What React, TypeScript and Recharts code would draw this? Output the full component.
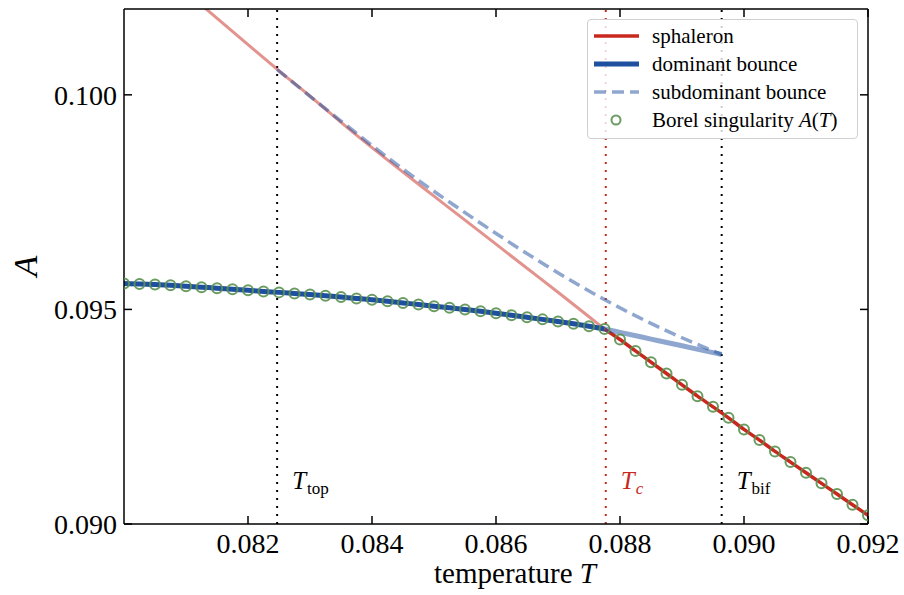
import React from 'react'
import { ComposedChart, Line, XAxis, YAxis, ReferenceLine } from 'recharts'

const FONT = '"Liberation Serif", "Times New Roman", serif'
const RED = '#c8281e'
const BLUE = '#1f50a0'
const GREEN = '#5a9150'

const T_TOP = 0.08247
const T_C = 0.08777
const T_BIF = 0.08964

const xTicks = [0.082, 0.084, 0.086, 0.088, 0.09, 0.092]
const yTicks = [0.09, 0.095, 0.1]

// Borel singularity samples (also the dominant bounce below Tc, sphaleron above)
const borelT = [
  0.08, 0.08025, 0.0805, 0.08075, 0.081, 0.08125, 0.0815, 0.08175, 0.082, 0.08225,
  0.0825, 0.08275, 0.083, 0.08325, 0.0835, 0.08375, 0.084, 0.08425, 0.0845, 0.08475,
  0.085, 0.08525, 0.0855, 0.08575, 0.086, 0.08625, 0.0865, 0.08675, 0.087, 0.08725,
  0.0875, 0.08775, 0.088, 0.08825, 0.0885, 0.08875, 0.089, 0.08925, 0.0895, 0.08975,
  0.09, 0.09025, 0.0905, 0.09075, 0.091, 0.09125, 0.0915, 0.09175, 0.092,
]
const borelA = [
  0.095602, 0.095592, 0.095578, 0.095562, 0.095541, 0.095518, 0.095495, 0.095471, 0.095446, 0.09542,
  0.095397, 0.095371, 0.095346, 0.095318, 0.095287, 0.095257, 0.095225, 0.09519, 0.095152, 0.095115,
  0.095076, 0.095038, 0.094999, 0.094957, 0.094913, 0.094866, 0.094817, 0.094768, 0.09472, 0.094666,
  0.094608, 0.094545, 0.094298, 0.094033, 0.09377, 0.093507, 0.093242, 0.092979, 0.09273, 0.092474,
  0.092204, 0.091955, 0.091692, 0.091443, 0.091194, 0.090947, 0.090698, 0.090449, 0.090202,
]

// sphaleron branch below Tc (faded)
const sphLightT = [0.0813, 0.082, 0.0825, 0.083, 0.0835, 0.084, 0.0845, 0.085, 0.0855, 0.086, 0.0865, 0.087, 0.0875, 0.08775]
const sphLightA = [0.10203, 0.10117, 0.10056, 0.09997, 0.09936, 0.09877, 0.0982, 0.09764, 0.09708, 0.09652, 0.09596, 0.0954, 0.09483, 0.094545]

// dominant bounce above Tc (faded)
const bounceLightT = [0.08775, 0.088, 0.0885, 0.089, 0.0895, 0.08964]
const bounceLightA = [0.094545, 0.094466, 0.094309, 0.094152, 0.093994, 0.09395]

// subdominant bounce
const subT = [0.08247, 0.0835, 0.0845, 0.0857, 0.0868, 0.0878, 0.089, 0.08964]
const subA = [0.10059, 0.09939, 0.09827, 0.09706, 0.09603, 0.09519, 0.09434, 0.09395]

const pts = (ts: number[], as: number[]) => ts.map((T, i) => ({ T, A: as[i] }))

const borel = pts(borelT, borelA)
const dominant = borel.filter((p) => p.T <= 0.08775)
const sphDark = borel.filter((p) => p.T >= 0.08775)
const sphLight = pts(sphLightT, sphLightA)
const bounceLight = pts(bounceLightT, bounceLightA)
const subdominant = pts(subT, subA)

const refLabel = (main: string, sub: string, color: string, subItalic: boolean) => (props: any) => {
  const vb = props.viewBox || {}
  return (
    <text x={vb.x + 15} y={489} fill={color} fontFamily={FONT} fontSize={25}>
      <tspan fontStyle="italic">{main}</tspan>
      <tspan fontSize={17} dy={5} dx={1} fontStyle={subItalic ? 'italic' : 'normal'}>{sub}</tspan>
    </text>
  )
}

const axisStyle = { stroke: '#000', strokeWidth: 1.5 }
const noLabel = () => ''

const legendRows = [
  { label: 'sphaleron', kind: 'red' },
  { label: 'dominant bounce', kind: 'blue' },
  { label: 'subdominant bounce', kind: 'dash' },
  { label: 'borel', kind: 'circle' },
]

function Handle({ kind }: { kind: string }) {
  return (
    <svg width={46} height={14} style={{ display: 'block' }}>
      {kind === 'red' && <line x1={0} y1={7} x2={45} y2={7} stroke={RED} strokeWidth={3.5} />}
      {kind === 'blue' && <line x1={0} y1={7} x2={45} y2={7} stroke={BLUE} strokeWidth={5} />}
      {kind === 'dash' && (
        <line x1={0} y1={7} x2={45} y2={7} stroke={BLUE} strokeOpacity={0.5} strokeWidth={3.5} strokeDasharray="12 6" />
      )}
      {kind === 'circle' && (
        <circle cx={22} cy={7} r={4.5} fill="none" stroke={GREEN} strokeOpacity={0.9} strokeWidth={2} />
      )}
    </svg>
  )
}

export default function App() {
  return (
    <div style={{ position: 'absolute', left: 0, top: 0, width: 904, height: 595, background: '#fff' }}>
      <ComposedChart width={904} height={595} margin={{ top: 8, right: 35, bottom: 41, left: 64 }}>
        <XAxis
          xAxisId="bottom"
          dataKey="T"
          type="number"
          domain={[0.08, 0.092]}
          ticks={xTicks}
          interval={0}
          allowDataOverflow
          height={30}
          tickSize={-8}
          tickMargin={17}
          tickFormatter={(v: number) => v.toFixed(3)}
          axisLine={axisStyle}
          tickLine={axisStyle}
          tick={{ fill: '#000', fontSize: 28, fontFamily: FONT }}
          label={(props: any) => (
            <text x={515} y={583} textAnchor="middle" fill="#000" fontFamily={FONT} fontSize={29}>
              temperature <tspan fontStyle="italic">T</tspan>
            </text>
          )}
        />
        <XAxis
          xAxisId="top"
          orientation="top"
          dataKey="T"
          type="number"
          domain={[0.08, 0.092]}
          ticks={xTicks}
          interval={0}
          allowDataOverflow
          height={1}
          tickSize={-8}
          tickFormatter={noLabel}
          axisLine={axisStyle}
          tickLine={axisStyle}
        />
        <YAxis
          yAxisId="left"
          type="number"
          domain={[0.09, 0.102]}
          ticks={yTicks}
          interval={0}
          allowDataOverflow
          width={60}
          tickSize={-8}
          tickMargin={15}
          tickFormatter={(v: number) => v.toFixed(3)}
          axisLine={axisStyle}
          tickLine={axisStyle}
          tick={{ fill: '#000', fontSize: 28, fontFamily: FONT }}
          label={(props: any) => (
            <text
              x={37}
              y={266}
              textAnchor="middle"
              transform="rotate(-90, 37, 266)"
              fill="#000"
              fontFamily={FONT}
              fontSize={34}
              fontStyle="italic"
            >
              A
            </text>
          )}
        />
        <YAxis
          yAxisId="right"
          orientation="right"
          type="number"
          domain={[0.09, 0.102]}
          ticks={yTicks}
          interval={0}
          allowDataOverflow
          width={1}
          tickSize={-8}
          tickFormatter={noLabel}
          axisLine={axisStyle}
          tickLine={axisStyle}
        />

        <ReferenceLine xAxisId="bottom" yAxisId="left" x={T_TOP} stroke="#000" strokeWidth={2} strokeDasharray="2 6" label={refLabel('T', 'top', '#000', false)} />
        <ReferenceLine xAxisId="bottom" yAxisId="left" x={T_C} stroke={RED} strokeWidth={2} strokeDasharray="2 6" label={refLabel('T', 'c', RED, true)} />
        <ReferenceLine xAxisId="bottom" yAxisId="left" x={T_BIF} stroke="#000" strokeWidth={2} strokeDasharray="2 6" label={refLabel('T', 'bif', '#000', false)} />

        {/* invisible series so the mirrored top/right axes get drawn */}
        <Line xAxisId="top" yAxisId="right" data={borel} dataKey="A" stroke="none" dot={false} activeDot={false} isAnimationActive={false} />

        <Line xAxisId="bottom" yAxisId="left" data={sphLight} dataKey="A" type="monotone" stroke={RED} strokeOpacity={0.5} strokeWidth={3} dot={false} activeDot={false} isAnimationActive={false} />
        <Line xAxisId="bottom" yAxisId="left" data={sphDark} dataKey="A" type="monotone" stroke={RED} strokeWidth={3.5} dot={false} activeDot={false} isAnimationActive={false} />
        <Line xAxisId="bottom" yAxisId="left" data={dominant} dataKey="A" type="monotone" stroke={BLUE} strokeWidth={5} dot={false} activeDot={false} isAnimationActive={false} />
        <Line xAxisId="bottom" yAxisId="left" data={bounceLight} dataKey="A" type="monotone" stroke={BLUE} strokeOpacity={0.5} strokeWidth={5} dot={false} activeDot={false} isAnimationActive={false} />
        <Line xAxisId="bottom" yAxisId="left" data={subdominant} dataKey="A" type="monotone" stroke={BLUE} strokeOpacity={0.5} strokeWidth={3.5} strokeDasharray="12 6" dot={false} activeDot={false} isAnimationActive={false} />
        <Line
          xAxisId="bottom"
          yAxisId="left"
          data={borel}
          dataKey="A"
          stroke="none"
          dot={{ r: 5, fill: 'none', stroke: GREEN, strokeOpacity: 0.9, strokeWidth: 2 }}
          activeDot={false}
          isAnimationActive={false}
        />
      </ComposedChart>

      <div
        style={{
          position: 'absolute',
          left: 587,
          top: 19,
          width: 269,
          height: 118,
          border: '1px solid #d0d0d0',
          borderRadius: 4,
          background: 'rgba(255,255,255,0.8)',
          fontFamily: FONT,
          fontSize: 21,
          color: '#000',
          boxSizing: 'content-box',
        }}
      >
        {legendRows.map((r, i) => (
          <div key={i} style={{ position: 'absolute', left: 6, top: 2 + i * 28, height: 28, display: 'flex', alignItems: 'center', whiteSpace: 'nowrap' }}>
            <Handle kind={r.kind} />
            <span style={{ marginLeft: 12 }}>
              {r.kind === 'circle' ? (
                <>
                  Borel singularity <i>A</i>(<i>T</i>)
                </>
              ) : (
                r.label
              )}
            </span>
          </div>
        ))}
      </div>
    </div>
  )
}
